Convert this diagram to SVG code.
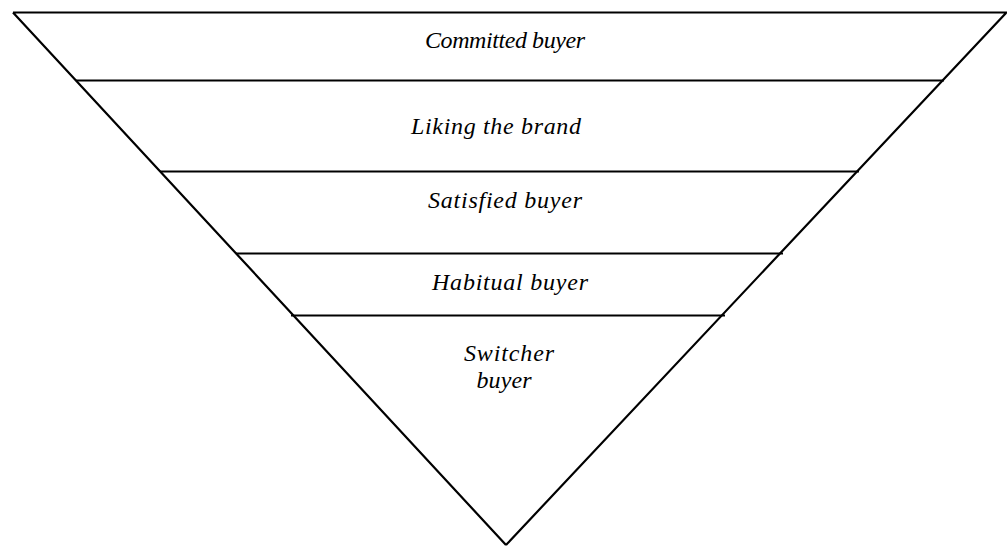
<svg xmlns="http://www.w3.org/2000/svg" width="1007" height="546" viewBox="0 0 1007 546">
  <style>
    .edge { stroke: #000; stroke-width: 2.2; fill: none; stroke-linecap: butt; stroke-linejoin: miter; }
    .tier { stroke: #000; stroke-width: 2.2; }
    .label { font-family: 'Liberation Serif', 'Times New Roman', 'DejaVu Serif', serif; font-style: italic; font-size: 24px; fill: #000; text-anchor: middle; }
  </style>
  <rect width="1007" height="546" fill="#fff"/>
  <!-- inverted pyramid outline -->
  <g id="pyramid">
    <path class="edge" d="M13 12.5 H1007 M13 12.5 L506 545 M1006 13 L506 545"/>
  </g>
  <!-- tier dividers -->
  <g id="dividers">
    <line class="tier" x1="76" y1="80.5" x2="944" y2="80.5"/>
    <line class="tier" x1="160" y1="171.5" x2="859" y2="171.5"/>
    <line class="tier" x1="236" y1="253.5" x2="783" y2="253.5"/>
    <line class="tier" x1="291" y1="315.5" x2="725" y2="315.5"/>
  </g>
  <g id="committed"><text class="label" x="505" y="48" textLength="160" lengthAdjust="spacing">Committed buyer</text></g>
  <g id="liking"><text class="label" x="496" y="134" textLength="170" lengthAdjust="spacing">Liking the brand</text></g>
  <g id="satisfied"><text class="label" x="505" y="208" textLength="154" lengthAdjust="spacing">Satisfied buyer</text></g>
  <g id="habitual"><text class="label" x="510" y="290" textLength="156" lengthAdjust="spacing">Habitual buyer</text></g>
  <g id="switcher">
    <text class="label" x="509" y="361" textLength="90" lengthAdjust="spacing">Switcher</text>
    <text class="label" x="504" y="388" textLength="55" lengthAdjust="spacing">buyer</text>
  </g>
</svg>
